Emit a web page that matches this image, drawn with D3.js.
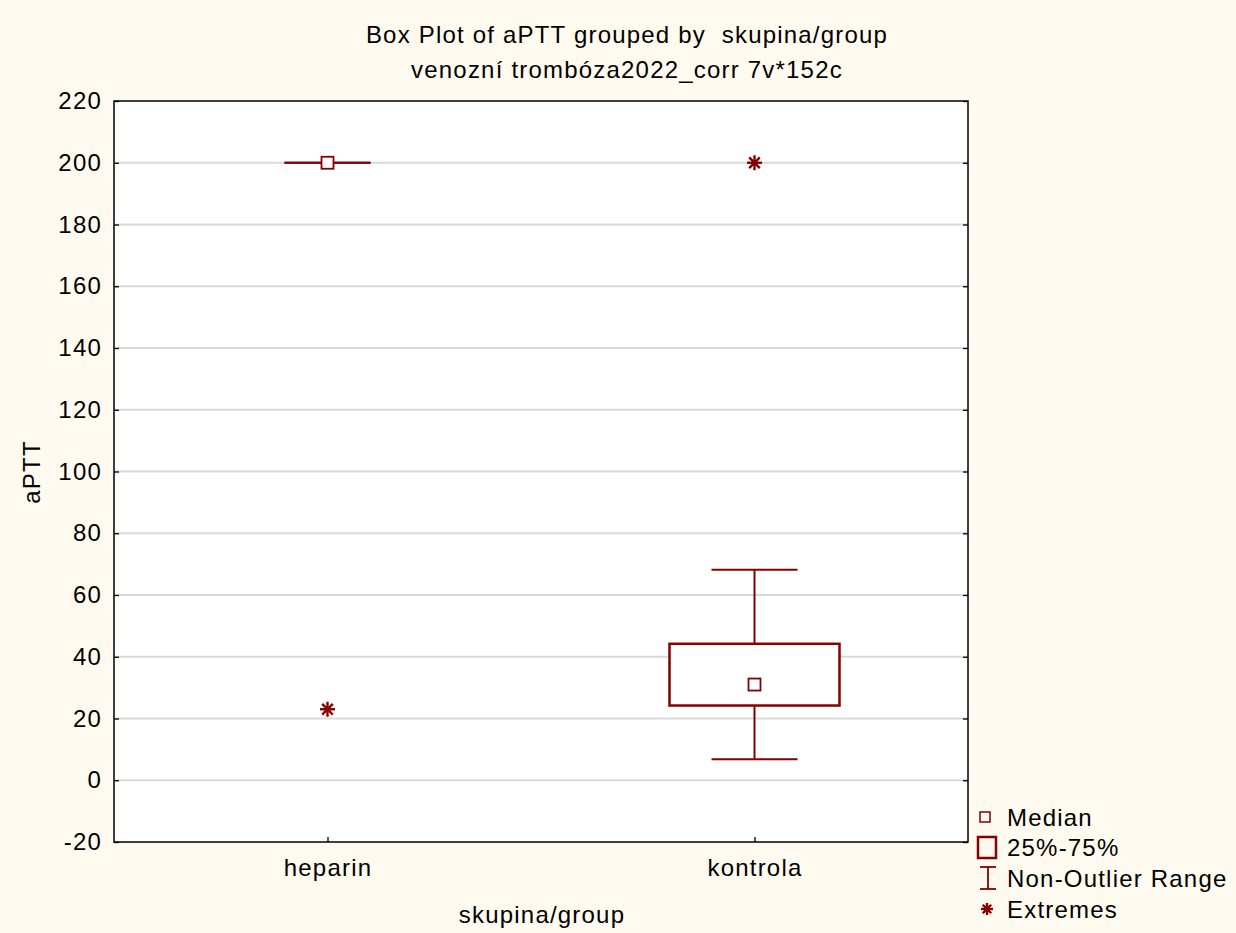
<!DOCTYPE html>
<html><head><meta charset="utf-8">
<script src="https://cdn.jsdelivr.net/npm/d3@7"></script>
<style>body{margin:0;background:#fffaf0;}svg{display:block;font-family:"Liberation Sans",Arial,sans-serif;}svg text{white-space:pre;letter-spacing:1.2px;}</style>
</head><body>
<script>
const categories = ["heparin", "kontrola"];
const medians = [200, 31];
const q1 = [200, 24.2];
const q3 = [200, 44.2];
const whiskerLow = [200, 6.8];
const whiskerHigh = [200, 68.2];
const extremes = [[23], [200]];
const yTicks = [-20, 0, 20, 40, 60, 80, 100, 120, 140, 160, 180, 200, 220];
const titleLines = ["Box Plot of aPTT grouped by  skupina/group", "venozní trombóza2022_corr 7v*152c"];
const legendItems = ["Median", "25%-75%", "Non-Outlier Range", "Extremes"];

const W = 1236, H = 933;
const m = {l:114, t:101, r:968, b:842};
const col = "#850000";
const FS = 24;
const svg = d3.select("body").append("svg").attr("width", W).attr("height", H);
svg.append("rect").attr("width", W).attr("height", H).attr("fill", "#fffaf0");
svg.append("rect").attr("x", m.l).attr("y", m.t).attr("width", m.r-m.l).attr("height", m.b-m.t).attr("fill", "#fff");

const x = d3.scalePoint().domain(categories).range([m.l, m.r]).padding(0.5);
const y = d3.scaleLinear().domain([-20, 220]).range([m.b, m.t]);

// grid
svg.append("g").selectAll("line").data(yTicks.filter(d => d > -20 && d < 220)).join("line")
  .attr("x1", m.l).attr("x2", m.r).attr("y1", d => y(d)).attr("y2", d => y(d))
  .attr("stroke", "#d9d9d9").attr("stroke-width", 2);

// axes
const yAxisL = svg.append("g").attr("transform", `translate(${m.l},0)`)
  .call(d3.axisLeft(y).tickValues(yTicks).tickSize(-5).tickPadding(12).tickFormat(d => String(d)));
const yAxisR = svg.append("g").attr("transform", `translate(${m.r},0)`)
  .call(d3.axisRight(y).tickValues(yTicks).tickSize(-5).tickFormat(""));
const xAxisB = svg.append("g").attr("transform", `translate(0,${m.b})`)
  .call(d3.axisBottom(x).tickSize(-5).tickPadding(17));
[yAxisL, yAxisR, xAxisB].forEach(g => {
  g.select(".domain").remove();
  g.selectAll(".tick line").attr("stroke", "#000").attr("stroke-width", 1.3);
  g.selectAll("text").attr("fill", "#000").attr("font-size", FS).attr("font-family", "Liberation Sans, Arial, sans-serif");
});

// frame
svg.append("rect").attr("x", m.l).attr("y", m.t).attr("width", m.r-m.l).attr("height", m.b-m.t)
  .attr("fill", "none").attr("stroke", "#000").attr("stroke-width", 1.5);

// boxes
const boxW = 170, capW = 86, medS = 12;
categories.forEach((c, i) => {
  const cx = x(c);
  const g = svg.append("g").attr("stroke", col).attr("fill", "none");
  g.append("line").attr("x1", cx).attr("x2", cx).attr("y1", y(whiskerHigh[i])).attr("y2", y(q3[i])).attr("stroke-width", 2);
  g.append("line").attr("x1", cx).attr("x2", cx).attr("y1", y(q1[i])).attr("y2", y(whiskerLow[i])).attr("stroke-width", 2);
  g.append("line").attr("x1", cx-capW/2).attr("x2", cx+capW/2).attr("y1", y(whiskerHigh[i])).attr("y2", y(whiskerHigh[i])).attr("stroke-width", 2);
  g.append("line").attr("x1", cx-capW/2).attr("x2", cx+capW/2).attr("y1", y(whiskerLow[i])).attr("y2", y(whiskerLow[i])).attr("stroke-width", 2);
  if (q3[i] > q1[i]) {
    g.append("rect").attr("x", cx-boxW/2).attr("y", y(q3[i])).attr("width", boxW).attr("height", y(q1[i])-y(q3[i]))
      .attr("stroke-width", 2.5).attr("fill", "#fff");
  }
  g.append("rect").attr("x", cx-medS/2).attr("y", y(medians[i])-medS/2).attr("width", medS).attr("height", medS)
    .attr("stroke-width", 1.8).attr("fill", "#fff");
  extremes[i].forEach(v => star(g, cx, y(v), 7.5));
});

function star(g, cx, cy, r) {
  const s = g.append("g").attr("stroke", col).attr("stroke-width", 2.4);
  [0, 45, 90, 135].forEach(a => {
    const rad = a*Math.PI/180, dx = Math.cos(rad)*r, dy = Math.sin(rad)*r;
    s.append("line").attr("x1", cx-dx).attr("x2", cx+dx).attr("y1", cy-dy).attr("y2", cy+dy);
  });
}

// titles
svg.append("g").selectAll("text").data(titleLines).join("text")
  .attr("x", 627).attr("y", (d, i) => 43 + i*35).attr("text-anchor", "middle")
  .attr("font-size", FS).attr("fill", "#000").text(d => d);
svg.append("text").attr("transform", "translate(40,472) rotate(-90)").attr("text-anchor", "middle")
  .attr("font-size", FS).attr("fill", "#000").text("aPTT");
svg.append("text").attr("x", 542).attr("y", 923).attr("text-anchor", "middle")
  .attr("font-size", FS).attr("fill", "#000").text("skupina/group");

// legend
const lg = svg.append("g");
const ly = [817, 847, 878, 909];
lg.selectAll("text").data(legendItems).join("text")
  .attr("x", 1007).attr("y", (d, i) => ly[i] + 8.5).attr("font-size", FS).attr("fill", "#000").text(d => d);
lg.append("rect").attr("x", 980).attr("y", ly[0]-5).attr("width", 10).attr("height", 10).attr("fill", "none").attr("stroke", col).attr("stroke-width", 1.5);
lg.append("rect").attr("x", 978).attr("y", ly[1]-10).attr("width", 18).attr("height", 21).attr("fill", "none").attr("stroke", col).attr("stroke-width", 2.5);
lg.append("line").attr("x1", 988).attr("x2", 988).attr("y1", ly[2]-11).attr("y2", ly[2]+11).attr("stroke", col).attr("stroke-width", 1.8);
lg.append("line").attr("x1", 980).attr("x2", 996).attr("y1", ly[2]-11).attr("y2", ly[2]-11).attr("stroke", col).attr("stroke-width", 1.8);
lg.append("line").attr("x1", 980).attr("x2", 996).attr("y1", ly[2]+11).attr("y2", ly[2]+11).attr("stroke", col).attr("stroke-width", 1.8);
star(lg, 987, ly[3], 6);
</script>
</body></html>
